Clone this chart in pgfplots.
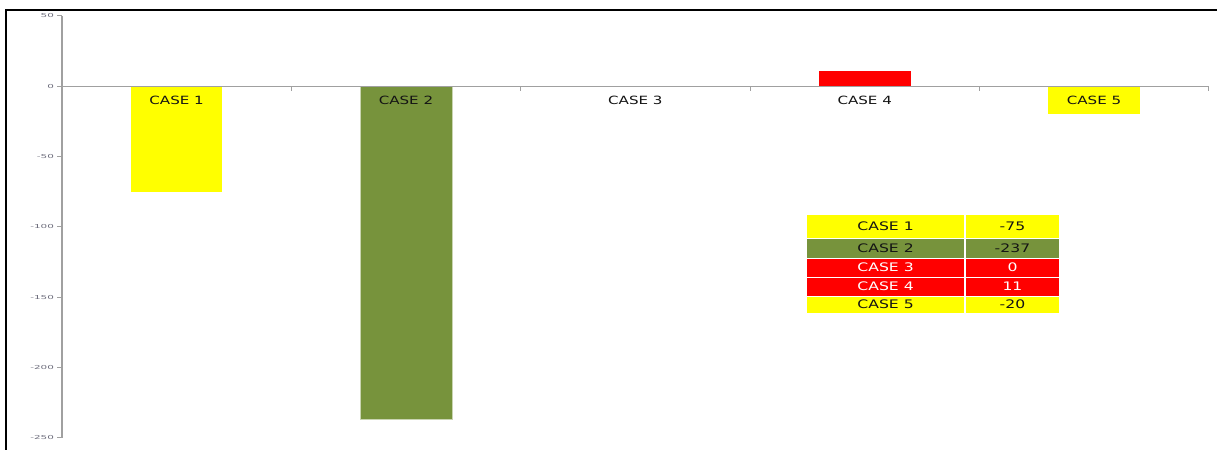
\documentclass[border=0pt]{standalone}
\usepackage{fontspec}
\setmainfont{DejaVu Sans}
\usepackage{graphicx}
\usepackage{pgfplots}
\pgfplotsset{compat=1.18}
\definecolor{cyellow}{RGB}{255,255,0}
\definecolor{colive}{RGB}{119,147,60}
\definecolor{cred}{RGB}{255,0,0}
\definecolor{axgray}{RGB}{160,160,160}
\definecolor{tickgray}{RGB}{110,110,125}
\newcommand{\wide}[1]{\scalebox{1.33}[1]{#1}}
\newcommand{\ywide}[1]{\scalebox{1.9}[1]{#1}}
\begin{document}
\begin{tikzpicture}[x=1bp,y=1bp]
\fill[white] (0,0) rectangle (1218,450);
\begin{axis}[
  at={(62bp,12bp)}, anchor=south west,
  scale only axis, width=1148bp, height=422bp,
  xmin=-0.5, xmax=4.5, ymin=-250, ymax=50,
  axis x line=middle, axis y line=left,
  axis line style={axgray, line width=1.2bp, -},
  tick align=outside,
  ytick={-250,-200,-150,-100,-50,0,50},
  yticklabels={\ywide{-250},\ywide{-200},\ywide{-150},\ywide{-100},\ywide{-50},\ywide{0},\ywide{50}},
  major tick length=4.5bp,
  tick style={axgray, line width=1bp},
  yticklabel style={font=\fontsize{5.5}{6}\selectfont, text=tickgray},
  xtick={0.5,1.5,2.5,3.5,4.5},
  xticklabels={},
  clip=false,
]
\addplot[ybar, bar width=0.4, bar shift=0pt, fill=cyellow, draw=none] coordinates {(0,-75)};
\addplot[ybar, bar width=0.4, bar shift=0pt, fill=colive, draw=colive!40!white, line width=0.6bp] coordinates {(1,-237)};
\addplot[ybar, bar width=0.4, bar shift=0pt, fill=none, draw=none] coordinates {(2,0)};
\addplot[ybar, bar width=0.4, bar shift=0pt, fill=cred, draw=none] coordinates {(3,11)};
\addplot[ybar, bar width=0.4, bar shift=0pt, fill=cyellow, draw=none] coordinates {(4,-20)};
\draw[axgray, line width=1.2bp] (axis cs:-0.5,0) -- (axis cs:4.5,0);
\node[font=\fontsize{11.4}{13}\selectfont, text=black!92, yshift=-14bp] at (axis cs:0,0) {\wide{CASE 1}};
\node[font=\fontsize{11.4}{13}\selectfont, text=black!92, yshift=-14bp] at (axis cs:1,0) {\wide{CASE 2}};
\node[font=\fontsize{11.4}{13}\selectfont, text=black!92, yshift=-14bp] at (axis cs:2,0) {\wide{CASE 3}};
\node[font=\fontsize{11.4}{13}\selectfont, text=black!92, yshift=-14bp] at (axis cs:3,0) {\wide{CASE 4}};
\node[font=\fontsize{11.4}{13}\selectfont, text=black!92, yshift=-14bp] at (axis cs:4,0) {\wide{CASE 5}};
\end{axis}
% data table
\begin{scope}[every node/.style={font=\fontsize{11.8}{13}\selectfont}]
\fill[cyellow] (808,235) rectangle (965,212);
\fill[cyellow] (967,235) rectangle (1060,212);
\fill[colive]  (808,211) rectangle (965,192);
\fill[colive]  (967,211) rectangle (1060,192);
\fill[cred]    (808,191) rectangle (965,173);
\fill[cred]    (967,191) rectangle (1060,173);
\fill[cred]    (808,172) rectangle (965,154);
\fill[cred]    (967,172) rectangle (1060,154);
\fill[cyellow] (808,153) rectangle (965,137);
\fill[cyellow] (967,153) rectangle (1060,137);
\node[text=black!92] at (886.5,223.5) {\wide{CASE 1}};
\node[text=black!92] at (1013.5,223.5) {\wide{-75}};
\node[text=black!92] at (886.5,201.5) {\wide{CASE 2}};
\node[text=black!92] at (1013.5,201.5) {\wide{-237}};
\node[text=white] at (886.5,182) {\wide{CASE 3}};
\node[text=white] at (1013.5,182) {\wide{0}};
\node[text=white] at (886.5,163) {\wide{CASE 4}};
\node[text=white] at (1013.5,163) {\wide{11}};
\node[text=black!92] at (886.5,145) {\wide{CASE 5}};
\node[text=black!92] at (1013.5,145) {\wide{-20}};
\end{scope}
% outer frame (top and left only)
\draw[line width=2.5bp, black] (6,0) -- (6,440) -- (1218,440);
\end{tikzpicture}
\end{document}
